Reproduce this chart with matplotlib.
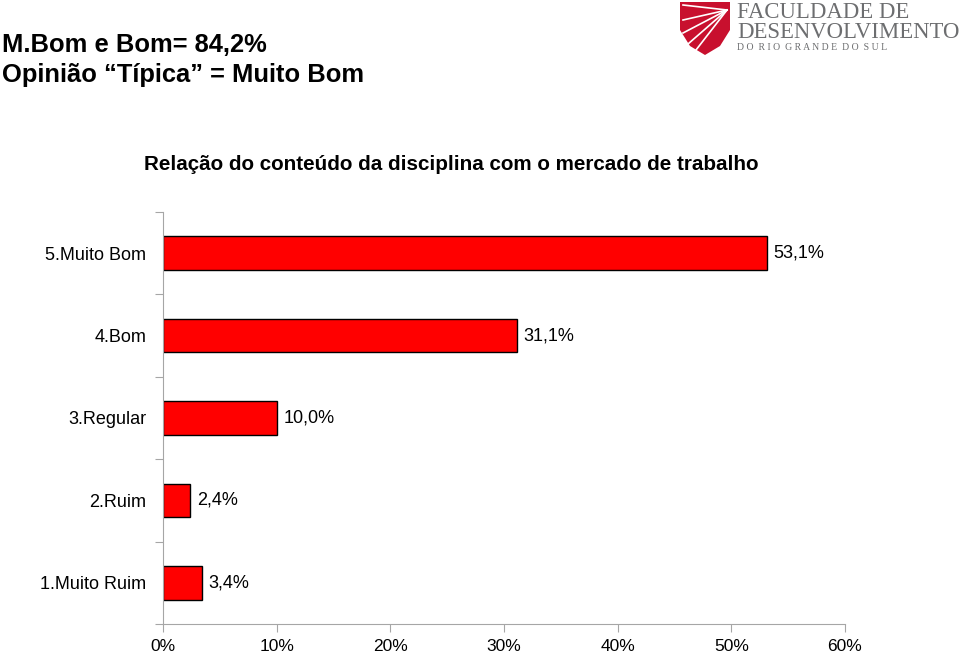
import matplotlib.pyplot as plt
from matplotlib.patches import Polygon
from matplotlib.lines import Line2D
from matplotlib.ticker import FixedLocator, PercentFormatter

plt.rcParams['font.family'] = ['Liberation Sans', 'DejaVu Sans']

categorias = ["1.Muito Ruim", "2.Ruim", "3.Regular", "4.Bom", "5.Muito Bom"]
valores = [3.4, 2.4, 10.0, 31.1, 53.1]
rotulos = ["3,4%", "2,4%", "10,0%", "31,1%", "53,1%"]
xticks = [0, 10, 20, 30, 40, 50, 60]

cinza = "#a6a6a6"

fig = plt.figure(figsize=(9.6, 6.57), dpi=100)
ax = fig.add_axes([163/960, 1-624/657, (845-163)/960, (624-212)/657])

pos = list(range(len(categorias)))
ax.barh(pos, valores, height=0.41, color="#ff0000", edgecolor="black", linewidth=1)
for p, v, r in zip(pos, valores, rotulos):
    ax.text(v + 0.6, p, r, va="center", ha="left", fontsize=13)

ax.set_xlim(0, 60)
ax.set_ylim(-0.5, len(categorias) - 0.5)

ax.xaxis.set_major_locator(FixedLocator(xticks))
ax.xaxis.set_major_formatter(PercentFormatter(decimals=0))
ax.tick_params(axis="x", length=6, color=cinza, pad=5, labelsize=12.5)

ax.set_yticks([i - 0.5 for i in range(len(categorias) + 1)])
ax.set_yticklabels([])
ax.set_yticks(pos, minor=True)
ax.set_yticklabels(categorias, minor=True)
ax.tick_params(axis="y", which="major", length=6, color=cinza)
ax.tick_params(axis="y", which="minor", length=0, pad=12, labelsize=13)

for s in ["top", "right"]:
    ax.spines[s].set_visible(False)
for s in ["left", "bottom"]:
    ax.spines[s].set_color(cinza)

# titulos
fig.text(0.002, 1-45/657, "M.Bom e Bom= 84,2%", fontsize=18.4, fontweight="bold", va="center")
fig.text(0.002, 1-75/657, "Opinião \u201cTípica\u201d = Muito Bom", fontsize=18.4, fontweight="bold", va="center")
fig.text(451/960, 1-165/657, "Relação do conteúdo da disciplina com o mercado de trabalho",
         fontsize=14.9, fontweight="bold", ha="center", va="center")

# logo
escudo = [(680, 2), (730, 2), (730, 30), (720, 46), (705, 55), (690, 46), (680, 30)]
fig.patches.append(Polygon([(x/960, 1-y/657) for x, y in escudo], closed=True,
                           transform=fig.transFigure, facecolor="#c8102e", edgecolor="none"))
for x1, y1 in [(683, 5), (683, 20), (683, 33), (688, 44), (696, 50)]:
    fig.lines.append(Line2D([x1/960, 727/960], [1-y1/657, 1-10/657], transform=fig.transFigure,
                            color="white", linewidth=1.2))
fig.text(737/960, 1-13/657, "FACULDADE DE", family="Liberation Serif", fontsize=16.4,
         color="#6d6e70", va="center")
fig.text(737/960, 1-32/657, "DESENVOLVIMENTO", family="Liberation Serif", fontsize=16.4,
         color="#6d6e70", va="center")
fig.text(737/960, 1-47/657, "D O  R I O  G R A N D E  D O  S U L", family="Liberation Serif",
         fontsize=7, color="#6d6e70", va="center")

plt.savefig("out.png", dpi=100)
